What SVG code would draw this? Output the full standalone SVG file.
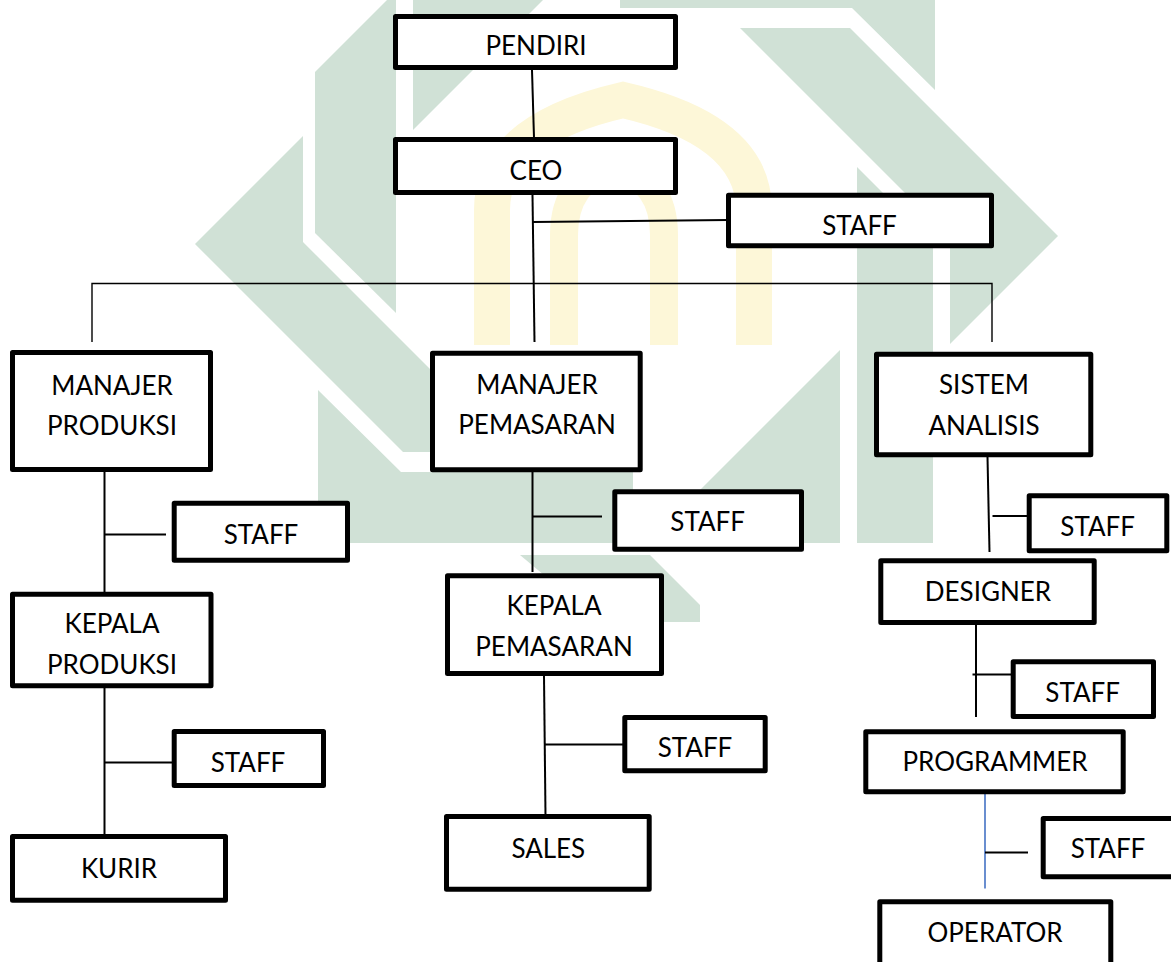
<svg xmlns="http://www.w3.org/2000/svg" width="1171" height="962" viewBox="0 0 1171 962">
<style>
.box{fill:#fff;stroke:#000;stroke-width:5;stroke-linejoin:round}
.lbl{font-family:Lato,"Liberation Sans",sans-serif;font-size:26px;fill:#000;text-anchor:middle}
.ln{stroke:#000;stroke-width:2;fill:none}
.thin{stroke:#000;stroke-width:1.4;fill:none}
.wm{fill:#d0e1d6}
.ym{fill:none;stroke:#fdf7d8}
</style>
<rect width="1171" height="962" fill="#fff"/>
<g id="watermark">
  <g id="wm-half">
    <polygon class="wm" points="195,244 303,136 303,242 513,452 403,452"/>
    <polygon class="wm" points="413,130 413,-63 606,-63"/>
    <polygon class="wm" points="620,-63 935,-63 935,90 852,8 620,8"/>
  </g>
  <use href="#wm-half" transform="rotate(180 626.5 240)"/>
  <polygon class="wm" points="315,72 387,0 396,0 396,313 315,233"/>
  <polygon class="wm" points="857,167 933,243 933,543 857,543"/>
  <polygon class="wm" points="520,555 650,555 700,605 700,622 600,622"/>
  <path class="ym" stroke-width="36" d="M492,345 V210 Q492,130 623,100 Q754,130 754,210 V345"/>
  <path class="ym" stroke-width="28" d="M564,345 V235 Q564,180 614,165 Q664,180 664,235 V345"/>
</g>
<g id="connectors">
  <line class="ln" x1="532" y1="70" x2="534" y2="138"/>
  <line class="ln" x1="532.5" y1="195" x2="534.5" y2="342"/>
  <line class="ln" x1="533" y1="222" x2="728" y2="220"/>
  <polyline class="thin" points="92,342 92,283.5 992,283.5 992,342"/>
  <line class="ln" x1="104.5" y1="472" x2="104.5" y2="593"/>
  <line class="ln" x1="104.5" y1="534.5" x2="166" y2="534.5"/>
  <line class="ln" x1="104.5" y1="688" x2="104.5" y2="836"/>
  <line class="ln" x1="104.5" y1="762.5" x2="173" y2="762.5"/>
  <line class="ln" x1="532.5" y1="472" x2="532.5" y2="572"/>
  <line class="ln" x1="532.5" y1="516.5" x2="602" y2="516.5"/>
  <line class="ln" x1="544" y1="676" x2="545.5" y2="815"/>
  <line class="ln" x1="545" y1="744.5" x2="624" y2="744.5"/>
  <line class="ln" x1="987.5" y1="457" x2="989.5" y2="552"/>
  <line class="ln" x1="992.5" y1="516" x2="1028" y2="516"/>
  <line class="ln" x1="976" y1="617" x2="976" y2="717"/>
  <line class="ln" x1="972.5" y1="674.5" x2="1012" y2="674.5"/>
  <line stroke="#4472c4" stroke-width="1.6" x1="985" y1="794" x2="985" y2="888.5"/>
  <line class="ln" x1="985" y1="852.5" x2="1028" y2="852.5"/>
</g>
<g id="pendiri"><rect class="box" x="395.5" y="16.5" width="280" height="51"/><text class="lbl" x="536" y="55">PENDIRI</text></g>
<g id="ceo"><rect class="box" x="395.5" y="139.5" width="280" height="53"/><text class="lbl" x="536" y="180">CEO</text></g>
<g id="staff-ceo"><rect class="box" x="728.5" y="195.2" width="263" height="50.6"/><text class="lbl" x="859.5" y="235">STAFF</text></g>
<g id="manajer-produksi"><rect class="box" x="12.5" y="352.5" width="198" height="117"/><text class="lbl" x="112" y="395">MANAJER</text><text class="lbl" x="112" y="435">PRODUKSI</text></g>
<g id="manajer-pemasaran"><rect class="box" x="432.5" y="353.2" width="207.7" height="116.6"/><text class="lbl" x="537" y="394">MANAJER</text><text class="lbl" x="537" y="434">PEMASARAN</text></g>
<g id="sistem-analisis"><rect class="box" x="876.5" y="354.2" width="214.3" height="100.6"/><text class="lbl" x="984" y="393.5">SISTEM</text><text class="lbl" x="984" y="435">ANALISIS</text></g>
<g id="staff-mp"><rect class="box" x="174.2" y="503.2" width="173.3" height="57"/><text class="lbl" x="261" y="543.5">STAFF</text></g>
<g id="staff-mpem"><rect class="box" x="614.8" y="491.8" width="186.7" height="57.4"/><text class="lbl" x="707.7" y="530.7">STAFF</text></g>
<g id="staff-sa"><rect class="box" x="1029.2" y="495.8" width="137.6" height="55"/><text class="lbl" x="1097.7" y="536">STAFF</text></g>
<g id="designer"><rect class="box" x="880.8" y="560.8" width="213.4" height="61.7"/><text class="lbl" x="988" y="600.7">DESIGNER</text></g>
<g id="kepala-produksi"><rect class="box" x="12.5" y="594.2" width="198.5" height="91.5"/><text class="lbl" x="112" y="633">KEPALA</text><text class="lbl" x="112" y="674">PRODUKSI</text></g>
<g id="kepala-pemasaran"><rect class="box" x="447.5" y="575.8" width="214" height="97.7"/><text class="lbl" x="554" y="615">KEPALA</text><text class="lbl" x="554" y="656">PEMASARAN</text></g>
<g id="staff-des"><rect class="box" x="1013.2" y="661.8" width="140.3" height="54.7"/><text class="lbl" x="1082.7" y="702">STAFF</text></g>
<g id="staff-kp"><rect class="box" x="174.2" y="731.5" width="149.3" height="54"/><text class="lbl" x="248" y="771.5">STAFF</text></g>
<g id="staff-kpem"><rect class="box" x="624.8" y="717.5" width="140.4" height="53.3"/><text class="lbl" x="695" y="757">STAFF</text></g>
<g id="programmer"><rect class="box" x="865.8" y="731.8" width="257.4" height="60"/><text class="lbl" x="995" y="771">PROGRAMMER</text></g>
<g id="staff-prog"><rect class="box" x="1043.2" y="818.5" width="135" height="58.3"/><text class="lbl" x="1108" y="857.5">STAFF</text></g>
<g id="kurir"><rect class="box" x="12.5" y="836.5" width="213" height="63.7"/><text class="lbl" x="119" y="877.5">KURIR</text></g>
<g id="sales"><rect class="box" x="446.5" y="816.5" width="202.7" height="72.7"/><text class="lbl" x="548.3" y="857.7">SALES</text></g>
<g id="operator"><rect class="box" x="879.8" y="901.8" width="231" height="70"/><text class="lbl" x="995" y="941.5">OPERATOR</text></g>
</svg>
